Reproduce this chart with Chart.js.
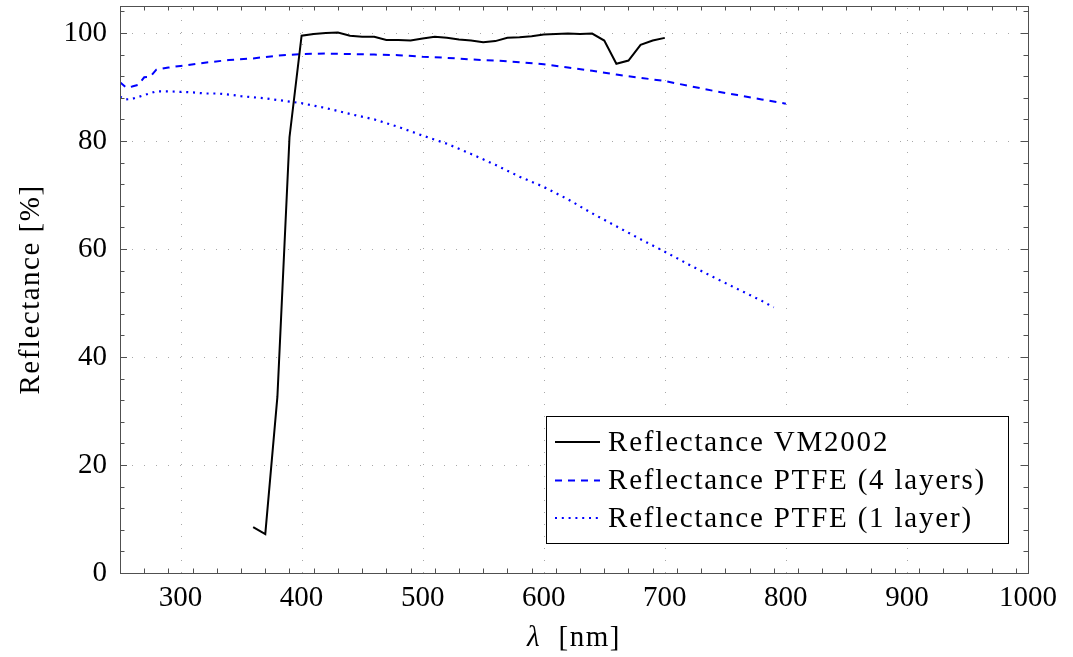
<!DOCTYPE html>
<html>
<head>
<meta charset="utf-8">
<script src="https://cdn.jsdelivr.net/npm/chart.js@4.4.1/dist/chart.umd.min.js"></script>
<style>
  html, body { margin: 0; padding: 0; background: #fff; }
  #wrap { width: 1073px; height: 657px; }
</style>
</head>
<body>
<div id="wrap"><canvas id="myChart"></canvas></div>
<script>
// wavelength [nm] / reflectance [%]
var vmWavelength = [360, 370, 380, 390, 400, 410, 420, 430, 440, 450, 460, 470, 480, 490, 500, 510, 520, 530, 540, 550, 560, 570, 580, 590, 600, 610, 620, 630, 640, 650, 660, 670, 680, 690, 700];
var vmReflectance = [8.5, 7.2, 32.6, 80.7, 99.5, 99.8, 100.0, 100.1, 99.5, 99.3, 99.3, 98.7, 98.7, 98.6, 99.0, 99.3, 99.1, 98.8, 98.6, 98.3, 98.5, 99.1, 99.2, 99.4, 99.7, 99.8, 99.9, 99.8, 99.9, 98.6, 94.3, 94.9, 97.8, 98.6, 99.1];

var ptfe4Wavelength = [250, 255, 260, 265, 270, 275, 280, 290, 300, 320, 340, 360, 380, 400, 420, 440, 460, 480, 500, 520, 540, 560, 580, 600, 620, 640, 660, 680, 700, 720, 740, 760, 780, 800];
var ptfe4Reflectance = [90.9, 89.9, 90.1, 90.4, 91.8, 91.9, 93.2, 93.6, 93.9, 94.5, 95.0, 95.3, 95.8, 96.1, 96.2, 96.1, 96.0, 95.9, 95.6, 95.4, 95.1, 94.9, 94.6, 94.2, 93.6, 93.0, 92.3, 91.7, 91.1, 90.2, 89.3, 88.5, 87.7, 86.9];

var ptfe1Wavelength = [250, 255, 260, 270, 280, 290, 300, 310, 320, 330, 340, 350, 360, 370, 380, 390, 400, 420, 440, 460, 480, 500, 520, 540, 560, 580, 600, 620, 640, 660, 680, 700, 720, 740, 760, 780, 790];
var ptfe1Reflectance = [88.2, 87.7, 87.8, 88.5, 89.2, 89.2, 89.1, 89.0, 88.8, 88.8, 88.6, 88.3, 88.1, 87.9, 87.6, 87.3, 87.0, 86.1, 85.0, 84.0, 82.6, 81.0, 79.5, 77.6, 75.6, 73.4, 71.5, 69.2, 66.6, 64.2, 61.8, 59.5, 57.1, 54.8, 52.6, 50.4, 49.2];

var xTicks = [300, 400, 500, 600, 700, 800, 900, 1000];
var yTicks = [0, 20, 40, 60, 80, 100];
var xMinorStep = 20;
var yMinorStep = 4;

var serif = "'Liberation Serif', 'DejaVu Serif', serif";

function toPoints(xs, ys) {
  return xs.map(function(x, i){ return {x: x, y: ys[i]}; });
}

// grid, inward ticks, frame, axis titles and legend, pgfplots style
var pgfDecor = {
  id: 'pgfDecor',
  beforeDatasetsDraw: function(chart) {
    var c = chart.ctx, a = chart.chartArea;
    var sx = chart.scales.x, sy = chart.scales.y;
    c.save();
    c.strokeStyle = '#a8a8a8';
    c.lineWidth = 1;
    c.setLineDash([1, 11]);
    xTicks.forEach(function(v){
      var px = Math.round(sx.getPixelForValue(v)) + 0.5;
      c.beginPath(); c.moveTo(px, a.bottom); c.lineTo(px, a.top); c.stroke();
    });
    yTicks.forEach(function(v){
      var py = Math.round(sy.getPixelForValue(v)) + 0.5;
      c.beginPath(); c.moveTo(a.left, py); c.lineTo(a.right, py); c.stroke();
    });
    c.restore();
  },
  afterDatasetsDraw: function(chart) {
    var c = chart.ctx, a = chart.chartArea;
    var sx = chart.scales.x, sy = chart.scales.y;
    c.save();
    c.strokeStyle = '#505050';
    c.lineWidth = 1;
    // x ticks (bottom + top)
    for (var v = sx.min; v <= sx.max + 0.001; v += xMinorStep) {
      var len = (v % 100 === 0) ? 7 : 4.5;
      var px = Math.round(sx.getPixelForValue(v)) + 0.5;
      c.beginPath();
      c.moveTo(px, a.bottom); c.lineTo(px, a.bottom - len);
      c.moveTo(px, a.top); c.lineTo(px, a.top + len);
      c.stroke();
    }
    // y ticks (left + right)
    for (var w = 0; w <= sy.max + 0.001; w += yMinorStep) {
      var lenY = (w % 20 === 0) ? 7 : 4.5;
      var py = Math.round(sy.getPixelForValue(w)) + 0.5;
      c.beginPath();
      c.moveTo(a.left, py); c.lineTo(a.left + lenY, py);
      c.moveTo(a.right, py); c.lineTo(a.right - lenY, py);
      c.stroke();
    }
    c.strokeRect(Math.round(a.left) + 0.5, Math.round(a.top) + 0.5,
                 Math.round(a.right - a.left), Math.round(a.bottom - a.top));

    // axis titles
    c.fillStyle = '#000';
    c.textBaseline = 'middle';
    c.letterSpacing = '1.5px';
    c.font = '29px ' + serif;
    c.save();
    c.translate(31, (a.top + a.bottom) / 2);
    c.rotate(-Math.PI / 2);
    c.textAlign = 'center';
    c.fillText('Reflectance [%]', 0, 0);
    c.restore();

    var lam = '\u03bb', rest = '  [nm]';
    c.font = 'italic 29px ' + serif;
    var w1 = c.measureText(lam).width;
    c.font = '29px ' + serif;
    var w2 = c.measureText(rest).width;
    var x0 = (a.left + a.right) / 2 - (w1 + w2) / 2;
    c.textAlign = 'left';
    c.font = 'italic 29px ' + serif;
    c.fillText(lam, x0, 638);
    c.font = '29px ' + serif;
    c.fillText(rest, x0 + w1, 638);

    // legend
    var bx = 546.5, by = 416.5, bw = 462, bh = 127;
    c.fillStyle = '#fff';
    c.fillRect(bx, by, bw, bh);
    c.strokeStyle = '#000';
    c.strokeRect(bx, by, bw, bh);
    var rows = [442, 480.5, 518];
    c.letterSpacing = '1.8px';
    chart.data.datasets.forEach(function(ds, i){
      c.save();
      c.strokeStyle = ds.borderColor;
      c.lineWidth = ds.borderWidth;
      c.setLineDash(ds.borderDash || []);
      c.beginPath(); c.moveTo(555, rows[i]); c.lineTo(600, rows[i]); c.stroke();
      c.restore();
      c.fillStyle = '#000';
      c.font = '29px ' + serif;
      c.textAlign = 'left';
      c.fillText(ds.label, 608, rows[i] + 1);
    });
    c.restore();
  }
};

var ctx = document.getElementById('myChart');
var myChart = new Chart(ctx, {
  type: 'line',
  data: {
    datasets: [{
      label: 'Reflectance VM2002',
      data: toPoints(vmWavelength, vmReflectance),
      borderColor: '#000000',
      borderWidth: 2,
      pointRadius: 0,
      tension: 0
    }, {
      label: 'Reflectance PTFE (4 layers)',
      data: toPoints(ptfe4Wavelength, ptfe4Reflectance),
      borderColor: '#0000ff',
      borderWidth: 2,
      borderDash: [7, 6],
      pointRadius: 0,
      tension: 0
    }, {
      label: 'Reflectance PTFE (1 layer)',
      data: toPoints(ptfe1Wavelength, ptfe1Reflectance),
      borderColor: '#0000ff',
      borderWidth: 2.2,
      borderDash: [2, 4.8],
      pointRadius: 0,
      tension: 0
    }]
  },
  options: {
    responsive: true,
    maintainAspectRatio: false,
    animation: false,
    devicePixelRatio: 1,
    layout: { padding: { left: 0, right: 45, top: 6, bottom: 0 } },
    plugins: { legend: { display: false }, tooltip: { enabled: false } },
    scales: {
      x: {
        type: 'linear',
        min: 250,
        max: 1000,
        afterBuildTicks: function(s){ s.ticks = xTicks.map(function(v){ return {value: v}; }); },
        afterFit: function(s){ s.height = 84; s.paddingLeft = 0; s.paddingRight = 0; },
        grid: { display: false, drawTicks: false },
        border: { display: false },
        ticks: {
          color: '#000', font: { family: serif, size: 29 }, padding: 8, maxRotation: 0, autoSkip: false,
          callback: function(v){ return String(v); }
        }
      },
      y: {
        type: 'linear',
        min: 0,
        max: 105,
        afterBuildTicks: function(s){ s.ticks = yTicks.map(function(v){ return {value: v}; }); },
        afterFit: function(s){ s.width = 120; s.paddingTop = 0; s.paddingBottom = 0; },
        grid: { display: false, drawTicks: false },
        border: { display: false },
        ticks: { color: '#000', font: { family: serif, size: 29 }, padding: 13 }
      }
    }
  },
  plugins: [pgfDecor]
});
</script>
</body>
</html>
